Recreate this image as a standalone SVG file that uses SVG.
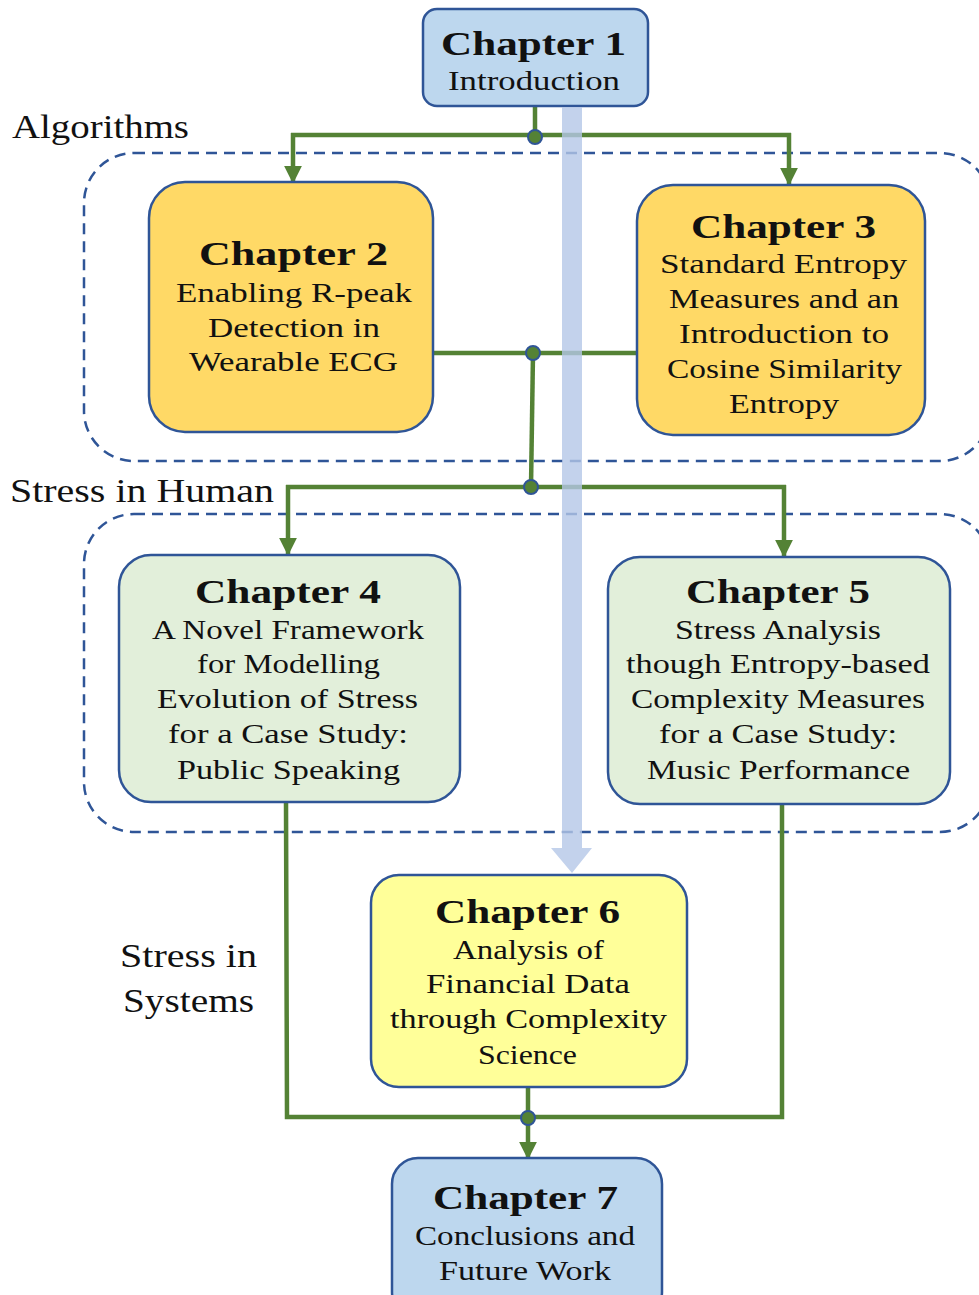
<svg xmlns="http://www.w3.org/2000/svg" width="979" height="1295" viewBox="0 0 979 1295" font-family="Liberation Serif, DejaVu Serif, serif">
<style>
.t{fill:#111;text-anchor:middle}
.h{font-weight:bold;font-size:33px}
.b{font-size:27px}
.lab{fill:#111;font-size:33px}
.box{stroke:#2f5597;stroke-width:2.5}
.grp{fill:none;stroke:#2f5597;stroke-width:2.5;stroke-dasharray:11 7}
.con{fill:none;stroke:#548235;stroke-width:4.5}
.dot{fill:#548235;stroke:#2f5597;stroke-width:2}
</style>
<defs>
<marker id="ah" viewBox="0 0 10 10" markerWidth="18" markerHeight="18" refX="9" refY="5" orient="auto" markerUnits="userSpaceOnUse">
<path d="M0,0 L10,5 L0,10 z" fill="#548235"/>
</marker>
</defs>
<rect width="979" height="1295" fill="#fff"/>
<g id="groups">
<rect class="grp" x="84" y="153" width="906" height="308" rx="50"/>
<rect class="grp" x="84" y="514" width="906" height="318" rx="50"/>
</g>
<g id="labels" font-family="Liberation Serif">
<text class="lab" x="12" y="138" textLength="177" lengthAdjust="spacingAndGlyphs">Algorithms</text>
<text class="lab" x="10" y="502" textLength="264" lengthAdjust="spacingAndGlyphs">Stress in Human</text>
<text class="lab" x="120" y="967" textLength="137" lengthAdjust="spacingAndGlyphs">Stress in</text>
<text class="lab" x="123" y="1012" textLength="131" lengthAdjust="spacingAndGlyphs">Systems</text>
</g>
<g id="connectors">
<path class="con" d="M535,106 V135"/>
<path class="con" d="M291,135 H791"/>
<path class="con" d="M293,133 V182" marker-end="url(#ah)"/>
<path class="con" d="M789,133 V184" marker-end="url(#ah)"/>
<path class="con" d="M433,353 H637"/>
<path class="con" d="M533,353 L531,487"/>
<path class="con" d="M286,487 H786"/>
<path class="con" d="M288,485 V554" marker-end="url(#ah)"/>
<path class="con" d="M784,485 V556" marker-end="url(#ah)"/>
<path class="con" d="M286,802 L287,1117 H782 V804"/>
<path class="con" d="M528,1087 V1117"/>
<path class="con" d="M528,1117 V1158" marker-end="url(#ah)"/>
<circle class="dot" cx="535" cy="137" r="7"/>
<circle class="dot" cx="533" cy="353" r="7"/>
<circle class="dot" cx="531" cy="487" r="7"/>
<circle class="dot" cx="528" cy="1118" r="7"/>
</g>
<g id="ch1" font-family="Liberation Serif">
<rect class="box" x="423" y="9" width="225" height="97" rx="14" fill="#bdd7ee"/>
<text class="t h" x="533.5" y="55" textLength="185" lengthAdjust="spacingAndGlyphs">Chapter 1</text>
<text class="t b" x="534" y="90" textLength="172" lengthAdjust="spacingAndGlyphs">Introduction</text>
</g>
<g id="ch2" font-family="Liberation Serif">
<rect class="box" x="149" y="182" width="284" height="250" rx="36" fill="#ffd966"/>
<text class="t h" x="293.5" y="265" textLength="189" lengthAdjust="spacingAndGlyphs">Chapter 2</text>
<text class="t b" x="294" y="302" textLength="236" lengthAdjust="spacingAndGlyphs">Enabling R-peak</text>
<text class="t b" x="294" y="337" textLength="172" lengthAdjust="spacingAndGlyphs">Detection in</text>
<text class="t b" x="293.5" y="371" textLength="209" lengthAdjust="spacingAndGlyphs">Wearable ECG</text>
</g>
<g id="ch3" font-family="Liberation Serif">
<rect class="box" x="637" y="185" width="288" height="250" rx="36" fill="#ffd966"/>
<text class="t h" x="783.5" y="238" textLength="185" lengthAdjust="spacingAndGlyphs">Chapter 3</text>
<text class="t b" x="783.5" y="273" textLength="247" lengthAdjust="spacingAndGlyphs">Standard Entropy</text>
<text class="t b" x="784" y="308" textLength="230" lengthAdjust="spacingAndGlyphs">Measures and an</text>
<text class="t b" x="784" y="343" textLength="210" lengthAdjust="spacingAndGlyphs">Introduction to</text>
<text class="t b" x="784.5" y="378" textLength="235" lengthAdjust="spacingAndGlyphs">Cosine Similarity</text>
<text class="t b" x="784" y="413" textLength="110" lengthAdjust="spacingAndGlyphs">Entropy</text>
</g>
<g id="ch4" font-family="Liberation Serif">
<rect class="box" x="119" y="555" width="341" height="247" rx="32" fill="#e2efda"/>
<text class="t h" x="288" y="603" textLength="186" lengthAdjust="spacingAndGlyphs">Chapter 4</text>
<text class="t b" x="288" y="639" textLength="272" lengthAdjust="spacingAndGlyphs">A Novel Framework</text>
<text class="t b" x="288.5" y="673" textLength="183" lengthAdjust="spacingAndGlyphs">for Modelling</text>
<text class="t b" x="287.5" y="708" textLength="261" lengthAdjust="spacingAndGlyphs">Evolution of Stress</text>
<text class="t b" x="288" y="743" textLength="240" lengthAdjust="spacingAndGlyphs">for a Case Study:</text>
<text class="t b" x="288.5" y="779" textLength="223" lengthAdjust="spacingAndGlyphs">Public Speaking</text>
</g>
<g id="ch5" font-family="Liberation Serif">
<rect class="box" x="608" y="557" width="342" height="247" rx="32" fill="#e2efda"/>
<text class="t h" x="778" y="603" textLength="184" lengthAdjust="spacingAndGlyphs">Chapter 5</text>
<text class="t b" x="778" y="639" textLength="206" lengthAdjust="spacingAndGlyphs">Stress Analysis</text>
<text class="t b" x="778" y="673" textLength="304" lengthAdjust="spacingAndGlyphs">though Entropy-based</text>
<text class="t b" x="778" y="708" textLength="294" lengthAdjust="spacingAndGlyphs">Complexity Measures</text>
<text class="t b" x="778" y="743" textLength="238" lengthAdjust="spacingAndGlyphs">for a Case Study:</text>
<text class="t b" x="778.5" y="779" textLength="263" lengthAdjust="spacingAndGlyphs">Music Performance</text>
</g>
<g id="ch6" font-family="Liberation Serif">
<rect class="box" x="371" y="875" width="316" height="212" rx="28" fill="#ffff99"/>
<text class="t h" x="527.5" y="923" textLength="185" lengthAdjust="spacingAndGlyphs">Chapter 6</text>
<text class="t b" x="528.5" y="959" textLength="151" lengthAdjust="spacingAndGlyphs">Analysis of</text>
<text class="t b" x="528" y="993" textLength="204" lengthAdjust="spacingAndGlyphs">Financial Data</text>
<text class="t b" x="528.5" y="1028" textLength="277" lengthAdjust="spacingAndGlyphs">through Complexity</text>
<text class="t b" x="527.5" y="1064" textLength="99" lengthAdjust="spacingAndGlyphs">Science</text>
</g>
<g id="ch7" font-family="Liberation Serif">
<rect class="box" x="392" y="1158" width="270" height="160" rx="26" fill="#bdd7ee"/>
<text class="t h" x="525.5" y="1209" textLength="185" lengthAdjust="spacingAndGlyphs">Chapter 7</text>
<text class="t b" x="525" y="1245" textLength="220" lengthAdjust="spacingAndGlyphs">Conclusions and</text>
<text class="t b" x="525" y="1280" textLength="172" lengthAdjust="spacingAndGlyphs">Future Work</text>
</g>
<g id="flow-arrow">
<path d="M562,107 H582 V848 H592 L572,873 L551,848 H562 Z" fill="#b4c7e7" fill-opacity="0.8"/>
</g>
</svg>
